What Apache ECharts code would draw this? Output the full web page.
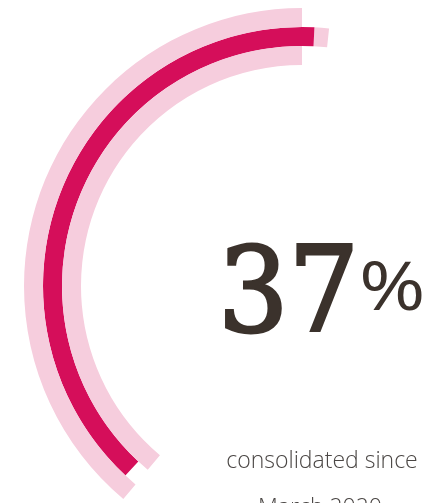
<!DOCTYPE html>
<html>
<head>
<meta charset="utf-8">
<script src="https://cdn.jsdelivr.net/npm/echarts@6/dist/echarts.min.js"></script>
<style>
html,body{margin:0;padding:0;background:#fff;}
#chart{width:436px;height:503px;}
</style>
</head>
<body>
<div id="chart"></div>
<script>
// ---- data (arc extents in degrees, counter-clockwise from the top start) ----
const ringNames = ['inner', 'middle', 'outer'];
const arcOffset = [6, 0, 6];
const capArc    = [0, 3.25, 0];
const fillArc   = [0, 139.75, 0];
const trackArc  = [140, 0, 140];
const headline  = '37';
const unit      = '%';
const caption   = ['consolidated since', 'March 2020'];

const LIGHT = '#f6cddd';
const DARK  = '#d50e5a';
const TEXT  = '#3b322c';

const chart = echarts.init(document.getElementById('chart'), null, {renderer: 'canvas'});

function barSeries(name, data, color) {
  return {
    name: name,
    type: 'bar',
    coordinateSystem: 'polar',
    stack: 'ring',
    data: data,
    barCategoryGap: '0%',
    itemStyle: {color: color},
    silent: true
  };
}

chart.setOption({
  animation: false,
  polar: {center: [302, 286], radius: [221, 278]},
  angleAxis: {
    type: 'value', min: 0, max: 360, startAngle: 84, clockwise: false,
    show: false
  },
  radiusAxis: {
    type: 'category', data: ringNames, show: false
  },
  series: [
    barSeries('offset', arcOffset, 'rgba(0,0,0,0)'),
    barSeries('cap', capArc, LIGHT),
    barSeries('fill', fillArc, DARK),
    barSeries('track', trackArc, LIGHT)
  ],
  graphic: [
    {
      type: 'text', x: 218, y: 241, scaleX: 0.94,
      style: {text: headline, x: 0, y: 0, fill: TEXT, stroke: TEXT, lineWidth: 3,
        font: 'normal 118px "DejaVu Serif"', textAlign: 'left', textVerticalAlign: 'top'}
    },
    {
      type: 'text', x: 359, y: 257, scaleX: 1.2,
      style: {text: unit, x: 0, y: 0, fill: TEXT,
        font: 'normal 67px "Open Sans"', textAlign: 'left', textVerticalAlign: 'top'}
    },
    {
      type: 'text', x: 322, y: 473,
      style: {text: caption[0], x: 0, y: 0, fill: '#4a4644',
        font: '300 23px "Open Sans"', textAlign: 'center', textVerticalAlign: 'bottom'}
    },
    {
      type: 'text', x: 320, y: 520,
      style: {text: caption[1], x: 0, y: 0, fill: '#4a4644',
        font: '300 23px "Open Sans"', textAlign: 'center', textVerticalAlign: 'bottom'}
    }
  ]
});
</script>
</body>
</html>
